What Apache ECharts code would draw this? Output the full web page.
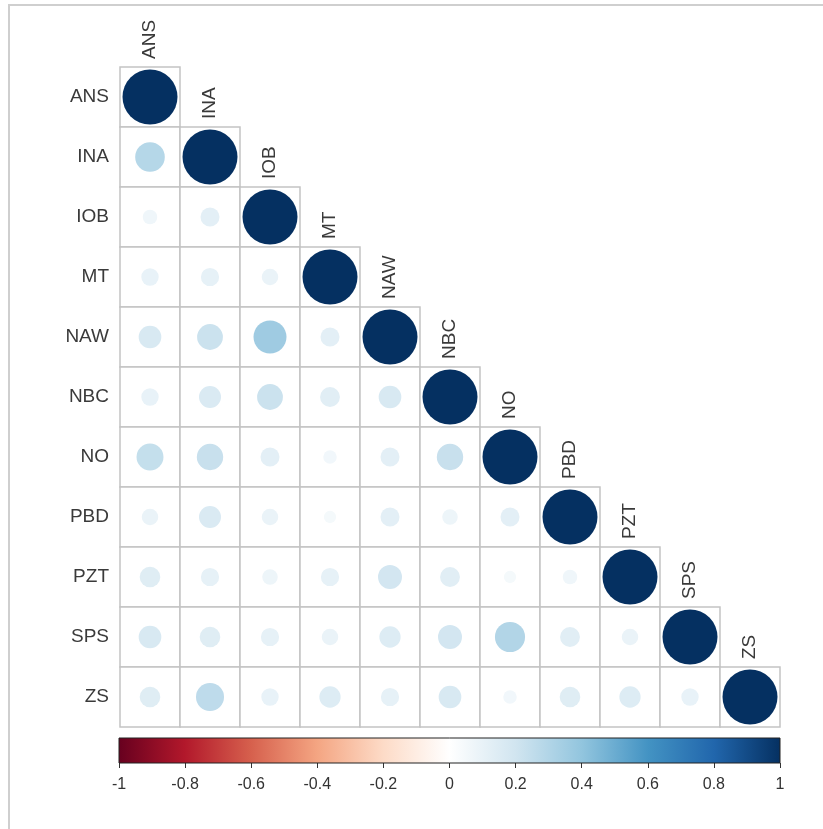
<!DOCTYPE html>
<html>
<head>
<meta charset="utf-8">
<script src="https://cdn.jsdelivr.net/npm/echarts@6/dist/echarts.min.js"></script>
<style>
  html, body { margin: 0; padding: 0; background: #fff; }
  #chart { width: 823px; height: 829px; }
</style>
</head>
<body>
<div id="chart"></div>
<script>
  // variables (same order on both axes)
  var labels = ['ANS', 'INA', 'IOB', 'MT', 'NAW', 'NBC', 'NO', 'PBD', 'PZT', 'SPS', 'ZS'];

  // lower triangle of the correlation matrix, one row per variable
  var rowANS = [1];
  var rowINA = [0.29, 1];
  var rowIOB = [0.07, 0.12, 1];
  var rowMT  = [0.10, 0.11, 0.09, 1];
  var rowNAW = [0.17, 0.22, 0.36, 0.12, 1];
  var rowNBC = [0.10, 0.16, 0.22, 0.13, 0.17, 1];
  var rowNO  = [0.24, 0.23, 0.12, 0.06, 0.12, 0.23, 1];
  var rowPBD = [0.09, 0.16, 0.09, 0.05, 0.12, 0.08, 0.12, 1];
  var rowPZT = [0.14, 0.11, 0.08, 0.11, 0.19, 0.13, 0.05, 0.07, 1];
  var rowSPS = [0.17, 0.14, 0.11, 0.09, 0.15, 0.19, 0.30, 0.13, 0.09, 1];
  var rowZS  = [0.14, 0.26, 0.10, 0.15, 0.11, 0.17, 0.06, 0.14, 0.15, 0.10, 1];

  // colour legend ticks
  var legendTicks = [-1, -0.8, -0.6, -0.4, -0.2, 0, 0.2, 0.4, 0.6, 0.8, 1];

  var rdbu = ['#67001F', '#B2182B', '#D6604D', '#F4A582', '#FDDBC7', '#FFFFFF',
              '#D1E5F0', '#92C5DE', '#4393C3', '#2166AC', '#053061'];

  var rows = [rowANS, rowINA, rowIOB, rowMT, rowNAW, rowNBC, rowNO, rowPBD, rowPZT, rowSPS, rowZS];
  var points = [];
  var cells = [];
  rows.forEach(function (row, r) {
    row.forEach(function (v, c) {
      points.push([c, r, v]);
      cells.push([c, r]);
    });
  });
  var diag = labels.map(function (l, i) { return [i, i]; });

  var font = 'Liberation Sans, Arial, sans-serif';
  var chart = echarts.init(document.getElementById('chart'));

  chart.setOption({
    animation: false,
    graphic: [{
      type: 'rect',
      z: -10,
      shape: { x: 9, y: 5, width: 900, height: 900 },
      style: { fill: 'none', stroke: '#cfcfcf', lineWidth: 2 }
    }],
    grid: [
      { left: 120, top: 67, width: 660, height: 660 },
      { left: 119, top: 738, width: 661, height: 25 }
    ],
    xAxis: [
      { type: 'category', data: labels, gridIndex: 0, show: false },
      {
        type: 'value', gridIndex: 1, min: -1, max: 1, interval: 0.2,
        axisLine: { show: false },
        splitLine: { show: false },
        axisTick: { show: true, length: 5, lineStyle: { color: '#333' } },
        axisLabel: { fontSize: 16, color: '#333', fontFamily: font, margin: 14 }
      }
    ],
    yAxis: [
      {
        type: 'category', data: labels, gridIndex: 0, inverse: true,
        axisLine: { show: false }, axisTick: { show: false },
        axisLabel: { fontSize: 19, color: '#3a3a3a', fontFamily: font, margin: 11 }
      },
      { type: 'value', gridIndex: 1, min: 0, max: 1, show: false }
    ],
    visualMap: {
      type: 'continuous', show: false, min: -1, max: 1, dimension: 2,
      seriesIndex: 1, inRange: { color: rdbu }
    },
    series: [
      {
        // cell borders
        type: 'custom', xAxisIndex: 0, yAxisIndex: 0, data: cells,
        renderItem: function (params, api) {
          var p = api.coord([api.value(0), api.value(1)]);
          var s = api.size([1, 1]);
          return {
            type: 'rect',
            shape: { x: p[0] - s[0] / 2, y: p[1] - s[1] / 2, width: s[0], height: s[1] },
            style: { fill: '#fff', stroke: '#c4c4c4', lineWidth: 1.5 }
          };
        }
      },
      {
        type: 'scatter', xAxisIndex: 0, yAxisIndex: 0, data: points, z: 5,
        itemStyle: { opacity: 1 },
        symbolSize: function (val) { return 55 * Math.sqrt(Math.abs(val[2])); }
      },
      {
        // column labels above the diagonal
        type: 'custom', xAxisIndex: 0, yAxisIndex: 0, data: diag,
        renderItem: function (params, api) {
          var p = api.coord([api.value(0), api.value(1)]);
          var s = api.size([1, 1]);
          return {
            type: 'text',
            x: p[0], y: p[1] - s[1] / 2 - 8,
            rotation: Math.PI / 2,
            style: {
              text: labels[params.dataIndex], fontSize: 19, fontFamily: font,
              fill: '#3a3a3a', align: 'left', verticalAlign: 'middle'
            }
          };
        }
      },
      {
        // colour legend bar
        type: 'custom', xAxisIndex: 1, yAxisIndex: 1,
        data: [[legendTicks[0], legendTicks[legendTicks.length - 1]]],
        renderItem: function (params, api) {
          var a = api.coord([api.value(0), 0]);
          var b = api.coord([api.value(1), 1]);
          var stops = rdbu.map(function (c, i) { return { offset: i / (rdbu.length - 1), color: c }; });
          return {
            type: 'rect',
            shape: { x: a[0], y: b[1], width: b[0] - a[0], height: a[1] - b[1] },
            style: {
              fill: new echarts.graphic.LinearGradient(0, 0, 1, 0, stops),
              stroke: '#222', lineWidth: 1
            }
          };
        }
      }
    ]
  });
</script>
</body>
</html>
